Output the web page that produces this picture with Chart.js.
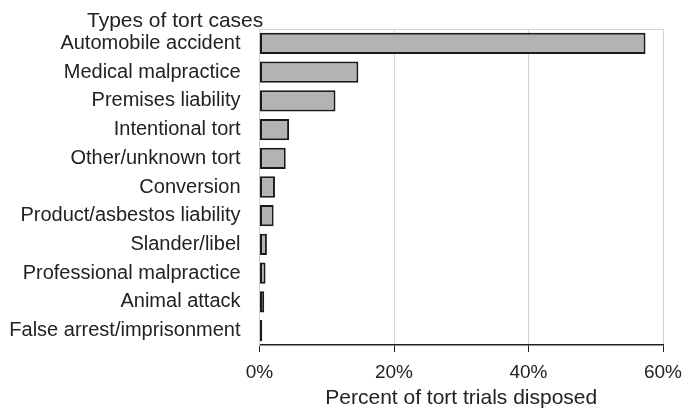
<!DOCTYPE html>
<html>
<head>
<meta charset="utf-8">
<script src="https://cdn.jsdelivr.net/npm/chart.js@4"></script>
<style>
  body { margin: 0; background: #fff; }
  #wrap { width: 682px; height: 411px; }
</style>
</head>
<body>
<div id="wrap"><canvas id="tortChart"></canvas></div>
<script>
const caseTypes = [
  'Automobile accident', 'Medical malpractice', 'Premises liability',
  'Intentional tort', 'Other/unknown tort', 'Conversion',
  'Product/asbestos liability', 'Slander/libel', 'Professional malpractice',
  'Animal attack', 'False arrest/imprisonment'
];
const pctDisposed = [57.4, 14.7, 11.3, 4.4, 3.9, 2.3, 2.1, 1.1, 0.9, 0.7, 0.4];
const xTicks = [0, 20, 40, 60];
const chartTitle = 'Types of tort cases';
const axisTitle = 'Percent of tort trials disposed';

const fontFam = '"Liberation Sans", Arial, sans-serif';

// frame line at the top of the plot + the heading over the labels
const framePlugin = {
  id: 'frame',
  afterDraw(chart) {
    const { ctx, chartArea } = chart;
    ctx.save();
    ctx.strokeStyle = '#d4d4d4';
    ctx.lineWidth = 1;
    ctx.beginPath();
    ctx.moveTo(chartArea.left, chartArea.top + 0.5);
    ctx.lineTo(chartArea.right, chartArea.top + 0.5);
    ctx.stroke();
    ctx.fillStyle = '#222';
    ctx.font = '21px ' + fontFam;
    ctx.textAlign = 'left';
    ctx.textBaseline = 'alphabetic';
    ctx.fillText(chartTitle, 87, 27);
    ctx.restore();
  }
};

new Chart(document.getElementById('tortChart'), {
  type: 'bar',
  data: {
    labels: caseTypes,
    datasets: [{
      data: pctDisposed,
      backgroundColor: '#b3b3b3',
      borderColor: '#1a1a1a',
      borderWidth: 2,
      borderSkipped: false,
      barPercentage: 0.74,
      categoryPercentage: 1
    }]
  },
  options: {
    indexAxis: 'y',
    responsive: true,
    maintainAspectRatio: false,
    animation: false,
    layout: { padding: { top: 29, right: 0, left: 0, bottom: 0 } },
    plugins: {
      legend: { display: false },
      tooltip: { enabled: false }
    },
    scales: {
      x: {
        min: 0,
        max: 60,
        afterBuildTicks: axis => { axis.ticks = xTicks.map(v => ({ value: v })); },
        afterFit: axis => { axis.height = 66; axis.paddingRight = 19; },
        ticks: {
          callback: v => v + '%',
          color: '#222',
          font: { family: fontFam, size: 19 },
          padding: 9,
          maxRotation: 0
        },
        grid: {
          color: '#d4d4d4',
          tickColor: '#222',
          tickLength: 7,
          drawOnChartArea: true
        },
        border: { color: '#222', width: 1.5 },
        title: {
          display: true,
          text: axisTitle,
          color: '#222',
          font: { family: fontFam, size: 21 },
          padding: { top: 0, bottom: 0 }
        }
      },
      y: {
        afterFit: axis => { axis.width = 259.5; },
        ticks: {
          color: '#222',
          font: { family: fontFam, size: 20 },
          padding: 11
        },
        grid: { display: false },
        border: { color: '#cfcfcf', width: 1 }
      }
    }
  },
  plugins: [framePlugin]
});
</script>
</body>
</html>
